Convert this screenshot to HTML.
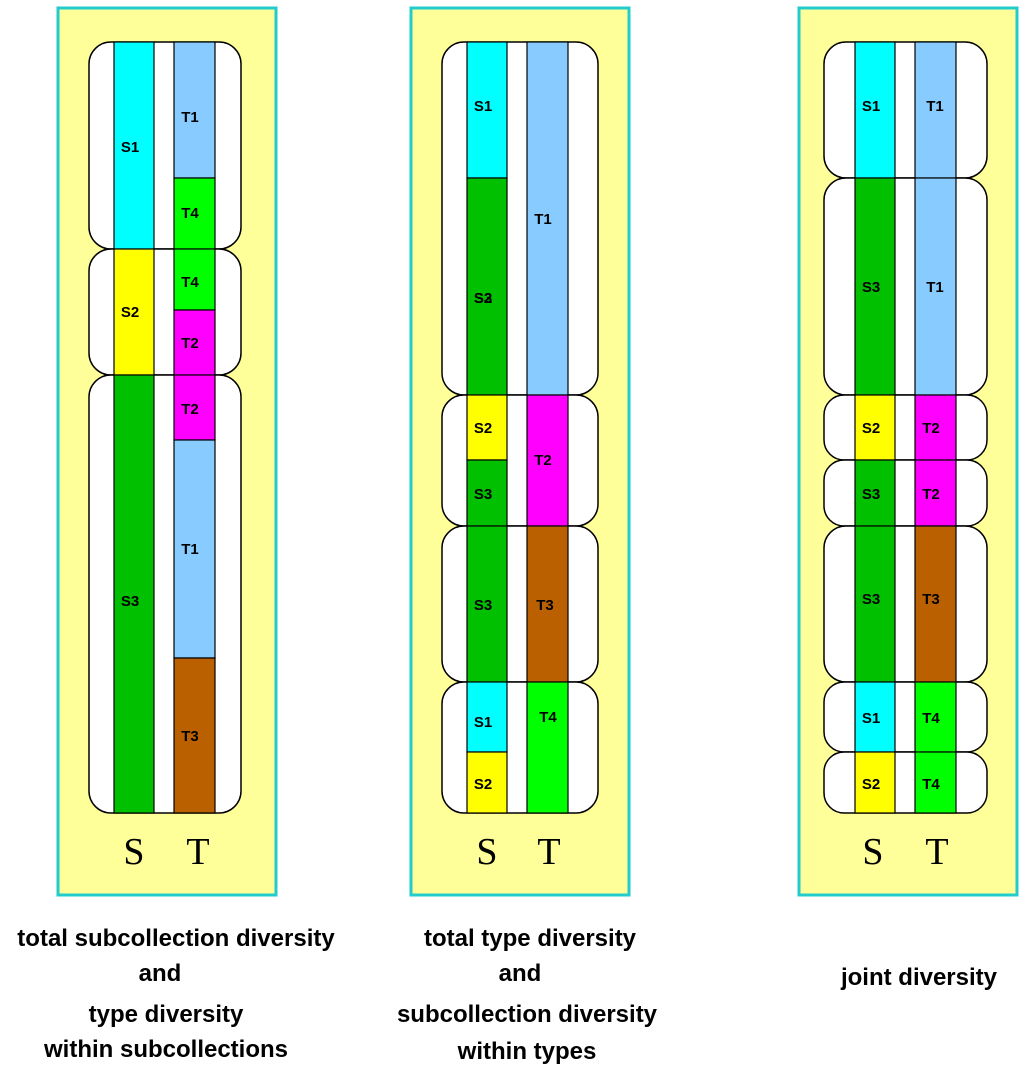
<!DOCTYPE html>
<html><head><style>body{margin:0;background:#fff}svg{display:block}</style></head><body>
<svg width="1024" height="1072" viewBox="0 0 1024 1072" xmlns="http://www.w3.org/2000/svg">
<g stroke="#22cccc" stroke-width="3" fill="#ffff99">
<rect x="58" y="8" width="218" height="887"/>
<rect x="411" y="8" width="218" height="887"/>
<rect x="799" y="8" width="218" height="887"/>
</g>
<g stroke="#000" stroke-width="1.5" fill="#fff">
<rect x="89" y="42" width="152" height="207" rx="22"/>
<rect x="89" y="249" width="152" height="126" rx="22"/>
<rect x="89" y="375" width="152" height="438" rx="22"/>
<rect x="442" y="42" width="156" height="353" rx="22"/>
<rect x="442" y="395" width="156" height="131" rx="22"/>
<rect x="442" y="526" width="156" height="156" rx="22"/>
<rect x="442" y="682" width="156" height="131" rx="22"/>
<rect x="824" y="42" width="163" height="136" rx="22"/>
<rect x="824" y="178" width="163" height="217" rx="22"/>
<rect x="824" y="395" width="163" height="65" rx="20"/>
<rect x="824" y="460" width="163" height="66" rx="20"/>
<rect x="824" y="526" width="163" height="156" rx="22"/>
<rect x="824" y="682" width="163" height="70" rx="20"/>
<rect x="824" y="752" width="163" height="61" rx="20"/>
</g>
<g stroke="#000" stroke-width="1.2">
<!-- panel 1 -->
<rect x="114" y="42" width="40" height="207" fill="#00ffff"/>
<rect x="114" y="249" width="40" height="126" fill="#ffff00"/>
<rect x="114" y="375" width="40" height="438" fill="#00c000"/>
<rect x="174" y="42" width="41" height="136" fill="#88ccff"/>
<rect x="174" y="178" width="41" height="71" fill="#00ff00"/>
<rect x="174" y="249" width="41" height="61" fill="#00ff00"/>
<rect x="174" y="310" width="41" height="65" fill="#ff00ff"/>
<rect x="174" y="375" width="41" height="65" fill="#ff00ff"/>
<rect x="174" y="440" width="41" height="218" fill="#88ccff"/>
<rect x="174" y="658" width="41" height="155" fill="#bb6000"/>
<!-- panel 2 -->
<rect x="467" y="42" width="40" height="136" fill="#00ffff"/>
<rect x="467" y="178" width="40" height="217" fill="#00c000"/>
<rect x="467" y="395" width="40" height="65" fill="#ffff00"/>
<rect x="467" y="460" width="40" height="66" fill="#00c000"/>
<rect x="467" y="526" width="40" height="156" fill="#00c000"/>
<rect x="467" y="682" width="40" height="70" fill="#00ffff"/>
<rect x="467" y="752" width="40" height="61" fill="#ffff00"/>
<rect x="527" y="42" width="41" height="353" fill="#88ccff"/>
<rect x="527" y="395" width="41" height="131" fill="#ff00ff"/>
<rect x="527" y="526" width="41" height="156" fill="#bb6000"/>
<rect x="527" y="682" width="41" height="131" fill="#00ff00"/>
<!-- panel 3 -->
<rect x="855" y="42" width="40" height="136" fill="#00ffff"/>
<rect x="855" y="178" width="40" height="217" fill="#00c000"/>
<rect x="855" y="395" width="40" height="65" fill="#ffff00"/>
<rect x="855" y="460" width="40" height="66" fill="#00c000"/>
<rect x="855" y="526" width="40" height="156" fill="#00c000"/>
<rect x="855" y="682" width="40" height="70" fill="#00ffff"/>
<rect x="855" y="752" width="40" height="61" fill="#ffff00"/>
<rect x="915" y="42" width="41" height="136" fill="#88ccff"/>
<rect x="915" y="178" width="41" height="217" fill="#88ccff"/>
<rect x="915" y="395" width="41" height="65" fill="#ff00ff"/>
<rect x="915" y="460" width="41" height="66" fill="#ff00ff"/>
<rect x="915" y="526" width="41" height="156" fill="#bb6000"/>
<rect x="915" y="682" width="41" height="70" fill="#00ff00"/>
<rect x="915" y="752" width="41" height="61" fill="#00ff00"/>
</g>
<g font-family="Liberation Sans, sans-serif" font-weight="bold" font-size="15" text-anchor="middle" fill="#000">
<text x="130" y="152">S1</text><text x="130" y="317">S2</text><text x="130" y="606">S3</text>
<text x="190" y="122">T1</text><text x="190" y="218">T4</text><text x="190" y="287">T4</text><text x="190" y="348">T2</text><text x="190" y="414">T2</text><text x="190" y="554">T1</text><text x="190" y="741">T3</text>
<text x="483" y="111">S1</text><text x="483" y="303">S2</text><text x="483" y="303" opacity="0"></text>
<text x="483" y="303">S3</text>
<text x="483" y="433">S2</text><text x="483" y="499">S3</text><text x="483" y="610">S3</text><text x="483" y="727">S1</text><text x="483" y="789">S2</text>
<text x="543" y="224">T1</text><text x="543" y="465">T2</text><text x="545" y="610">T3</text><text x="548" y="722">T4</text>
<text x="871" y="111">S1</text><text x="871" y="292">S3</text><text x="871" y="433">S2</text><text x="871" y="499">S3</text><text x="871" y="604">S3</text><text x="871" y="723">S1</text><text x="871" y="789">S2</text>
<text x="935" y="111">T1</text><text x="935" y="292">T1</text><text x="931" y="433">T2</text><text x="931" y="499">T2</text><text x="931" y="604">T3</text><text x="931" y="723">T4</text><text x="931" y="789">T4</text>
</g>
<g font-family="Liberation Serif, serif" font-size="38" text-anchor="middle" fill="#000">
<text x="134" y="864">S</text><text x="198" y="864">T</text>
<text x="487" y="864">S</text><text x="549" y="864">T</text>
<text x="873" y="864">S</text><text x="937" y="864">T</text>
</g>
<g font-family="Liberation Sans, sans-serif" font-weight="bold" font-size="24" text-anchor="middle" fill="#000">
<text x="176" y="946">total subcollection diversity</text>
<text x="160" y="981">and</text>
<text x="166" y="1022">type diversity</text>
<text x="166" y="1057">within subcollections</text>
<text x="530" y="946">total type diversity</text>
<text x="520" y="981">and</text>
<text x="527" y="1022">subcollection diversity</text>
<text x="527" y="1059">within types</text>
<text x="919" y="985">joint diversity</text>
</g>
</svg>
</body></html>
